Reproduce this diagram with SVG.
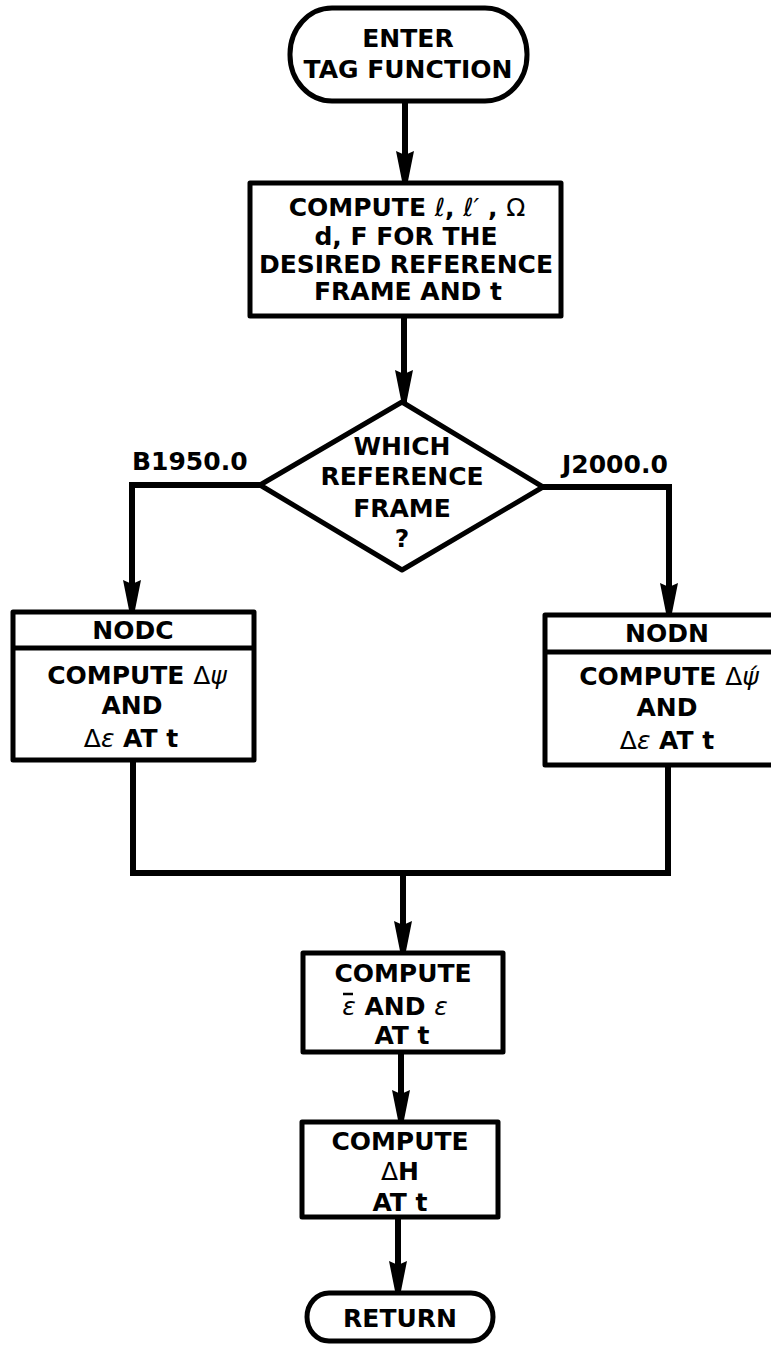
<svg xmlns="http://www.w3.org/2000/svg" width="771" height="1346" viewBox="0 0 771 1346">
<style>
.sh{fill:#fff;stroke:#000;stroke-width:5;stroke-linejoin:round}
.cn{fill:none;stroke:#000;stroke-width:6;stroke-linejoin:miter}
.t{font-family:"DejaVu Sans","Liberation Sans",sans-serif;font-weight:bold;font-size:25px;fill:#000;text-anchor:middle}
.st{text-anchor:start}
.g{font-weight:normal}
.gi{font-weight:normal;font-style:italic}
</style>
<defs>
<marker id="ah" markerUnits="userSpaceOnUse" markerWidth="34" markerHeight="20" refX="32" refY="9" orient="auto">
<path d="M0,0 L30,6 L32,9 L30,12 L0,18 L4,9 Z" fill="#000"/>
</marker>
</defs>
<g id="connectors">
<path class="cn" d="M405,101 V183" marker-end="url(#ah)"/>
<path class="cn" d="M404,316 V402" marker-end="url(#ah)"/>
<path class="cn" d="M260,485 H132 V612" marker-end="url(#ah)"/>
<path class="cn" d="M543,487 H669 V615" marker-end="url(#ah)"/>
<path class="cn" d="M133,760 V873 H668 V765"/>
<path class="cn" d="M403,873 V953" marker-end="url(#ah)"/>
<path class="cn" d="M401,1052 V1122" marker-end="url(#ah)"/>
<path class="cn" d="M398,1217 V1293" marker-end="url(#ah)"/>
</g>
<g id="enter">
<rect class="sh" x="290" y="8" width="237" height="93" rx="42" ry="46"/>
<text class="t" x="408" y="47">ENTER</text>
<text class="t" x="408" y="78">TAG FUNCTION</text>
</g>
<g id="compute1">
<rect class="sh" x="250" y="183" width="311" height="133"/>
<text class="t" x="407" y="216">COMPUTE <tspan class="gi">ℓ</tspan>, <tspan class="gi">ℓ′</tspan> , <tspan class="g">Ω</tspan></text>
<text class="t" x="406" y="245">d, F FOR THE</text>
<text class="t" x="406" y="273">DESIRED REFERENCE</text>
<text class="t" x="408" y="300">FRAME AND t</text>
</g>
<g id="decision">
<polygon class="sh" points="402,402 543,487 402,570 260,485"/>
<text class="t" x="402" y="455">WHICH</text>
<text class="t" x="402" y="485">REFERENCE</text>
<text class="t" x="402" y="517">FRAME</text>
<text class="t" x="402" y="547">?</text>
</g>
<g id="labels">
<text class="t st" x="132" y="470">B1950.0</text>
<text class="t st" x="562" y="473">J2000.0</text>
</g>
<g id="nodc">
<rect class="sh" x="13" y="612" width="241" height="148"/>
<line class="sh" x1="13" y1="648" x2="254" y2="648"/>
<text class="t" x="133" y="639">NODC</text>
<text class="t" x="137" y="684">COMPUTE <tspan class="g">Δ</tspan><tspan class="gi">ψ</tspan></text>
<text class="t" x="132" y="714">AND</text>
<text class="t" x="131" y="747"><tspan class="g">Δ</tspan><tspan class="gi">ε</tspan> AT t</text>
</g>
<g id="nodn">
<rect class="sh" x="545" y="615" width="246" height="150"/>
<line class="sh" x1="545" y1="652" x2="791" y2="652"/>
<text class="t" x="667" y="642">NODN</text>
<text class="t" x="669" y="685">COMPUTE <tspan class="g">Δ</tspan><tspan class="gi">ψ́</tspan></text>
<text class="t" x="667" y="716">AND</text>
<text class="t" x="667" y="749"><tspan class="g">Δ</tspan><tspan class="gi">ε</tspan> AT t</text>
</g>
<g id="compute2">
<rect class="sh" x="303" y="953" width="200" height="99"/>
<text class="t" x="403" y="982">COMPUTE</text>
<text class="t" x="395" y="1015"><tspan class="gi">ε</tspan> AND <tspan class="gi">ε</tspan></text>
<line x1="343" y1="994" x2="353" y2="994" stroke="#000" stroke-width="2.5"/>
<text class="t" x="402" y="1044">AT t</text>
</g>
<g id="compute3">
<rect class="sh" x="302" y="1122" width="196" height="95"/>
<text class="t" x="400" y="1150">COMPUTE</text>
<text class="t" x="400" y="1180"><tspan class="g">Δ</tspan>H</text>
<text class="t" x="400" y="1211">AT t</text>
</g>
<g id="return">
<rect class="sh" x="307" y="1293" width="186" height="48" rx="22" ry="24"/>
<text class="t" x="400" y="1327">RETURN</text>
</g>
</svg>
